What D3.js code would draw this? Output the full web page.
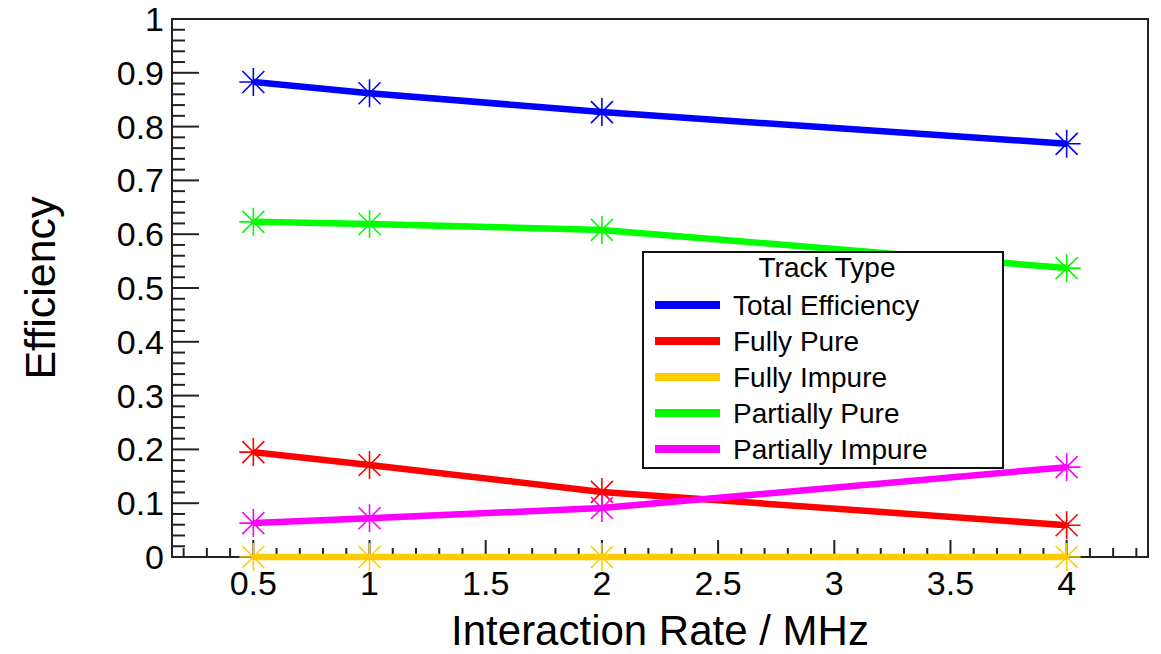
<!DOCTYPE html>
<html>
<head>
<meta charset="utf-8">
<script src="https://cdn.jsdelivr.net/npm/d3@7"></script>
<style>
  body { margin: 0; background: #ffffff; }
  text { font-family: "Liberation Sans", Arial, sans-serif; fill: #000; }
</style>
</head>
<body>
<div id="chart"></div>
<script>
// values
let rates = [0.5, 1, 2, 4];
let seriesNames = ["Total Efficiency", "Fully Pure", "Fully Impure", "Partially Pure", "Partially Impure"];
let seriesColors = ["#0000ff", "#ff0000", "#ffcc00", "#00ff00", "#ff00ff"];
let totalEff = [0.883, 0.862, 0.827, 0.768];
let fullyPure = [0.195, 0.171, 0.121, 0.059];
let fullyImpure = [0, 0, 0, 0];
let partiallyPure = [0.623, 0.619, 0.608, 0.537];
let partiallyImpure = [0.063, 0.072, 0.091, 0.167];
let xTicks = [0.5, 1, 1.5, 2, 2.5, 3, 3.5, 4];
let yTicks = [0, 0.1, 0.2, 0.3, 0.4, 0.5, 0.6, 0.7, 0.8, 0.9, 1];

let seriesValues = [totalEff, fullyPure, fullyImpure, partiallyPure, partiallyImpure];

let width = 1161;
let height = 654;
let frame = {left: 172, right: 1148, top: 19, bottom: 557};

let svg = d3.select("#chart").append("svg")
  .attr("width", width)
  .attr("height", height);

let x = d3.scaleLinear().domain([0.15, 4.35]).range([frame.left, frame.right]);
let y = d3.scaleLinear().domain([0, 1]).range([frame.bottom, frame.top]);

// frame
svg.append("rect")
  .attr("x", frame.left)
  .attr("y", frame.top)
  .attr("width", frame.right - frame.left)
  .attr("height", frame.bottom - frame.top)
  .attr("fill", "none")
  .attr("stroke", "#222")
  .attr("stroke-width", 2);

// ticks (ROOT style: inside the frame, left and bottom only)
let xMinor = d3.range(2, 44).map(d => d / 10);
let yMinor = d3.range(0, 51).map(d => d / 50);

let gx = svg.append("g");
gx.selectAll("line.minor")
  .data(xMinor)
  .enter()
  .append("line")
  .attr("x1", d => x(d))
  .attr("x2", d => x(d))
  .attr("y1", frame.bottom)
  .attr("y2", d => Math.abs(d * 2 - Math.round(d * 2)) < 1e-6 ? frame.bottom - 17 : frame.bottom - 9)
  .attr("stroke", "#222")
  .attr("stroke-width", 2);

let gy = svg.append("g");
gy.selectAll("line.minor")
  .data(yMinor)
  .enter()
  .append("line")
  .attr("y1", d => y(d))
  .attr("y2", d => y(d))
  .attr("x1", frame.left)
  .attr("x2", d => Math.abs(d * 10 - Math.round(d * 10)) < 1e-6 ? frame.left + 27 : frame.left + 13)
  .attr("stroke", "#222")
  .attr("stroke-width", 2);

// tick labels
svg.selectAll("text.xlab")
  .data(xTicks)
  .enter()
  .append("text")
  .classed("xlab", true)
  .attr("x", d => x(d))
  .attr("y", 595)
  .attr("text-anchor", "middle")
  .style("font-size", "34px")
  .text(d => d);

svg.selectAll("text.ylab")
  .data(yTicks)
  .enter()
  .append("text")
  .classed("ylab", true)
  .attr("x", 164)
  .attr("y", d => y(d) + 12)
  .attr("text-anchor", "end")
  .style("font-size", "34px")
  .text(d => d);

// axis titles
svg.append("text")
  .attr("x", (frame.left + frame.right) / 2)
  .attr("y", 645)
  .attr("text-anchor", "middle")
  .style("font-size", "42px")
  .text("Interaction Rate / MHz");

svg.append("text")
  .attr("transform", `translate(55, ${(frame.top + frame.bottom) / 2}) rotate(-90)`)
  .attr("text-anchor", "middle")
  .style("font-size", "43px")
  .text("Efficiency");

// series
let line = d3.line()
  .x((d, i) => x(rates[i]))
  .y(d => y(d));

let star = "M-14,0H14M0,-14V14M-11,-11L11,11M-11,11L11,-11";

seriesValues.forEach((vals, k) => {
  let g = svg.append("g");
  g.append("path")
    .attr("d", line(vals))
    .attr("fill", "none")
    .attr("stroke", seriesColors[k])
    .attr("stroke-width", 6.5);
  g.selectAll("path.marker")
    .data(vals)
    .enter()
    .append("path")
    .classed("marker", true)
    .attr("d", star)
    .attr("transform", (d, i) => `translate(${x(rates[i])},${y(d)})`)
    .attr("fill", "none")
    .attr("stroke", seriesColors[k])
    .attr("stroke-width", 1.6);
});

// legend
let legend = svg.append("g");
legend.append("rect")
  .attr("x", 643)
  .attr("y", 252)
  .attr("width", 360)
  .attr("height", 216)
  .attr("fill", "#fff")
  .attr("stroke", "#111")
  .attr("stroke-width", 2);

legend.append("text")
  .attr("x", 827)
  .attr("y", 277)
  .attr("text-anchor", "middle")
  .style("font-size", "28px")
  .text("Track Type");

let entries = legend.selectAll("g.entry")
  .data(seriesNames)
  .enter()
  .append("g")
  .classed("entry", true)
  .attr("transform", (d, i) => `translate(0, ${305 + i * 36})`);

entries.append("line")
  .attr("x1", 655)
  .attr("x2", 720)
  .attr("y1", 0)
  .attr("y2", 0)
  .attr("stroke", (d, i) => seriesColors[i])
  .attr("stroke-width", 8);

entries.append("text")
  .attr("x", 733)
  .attr("y", 10)
  .style("font-size", "28px")
  .text(d => d);
</script>
</body>
</html>
